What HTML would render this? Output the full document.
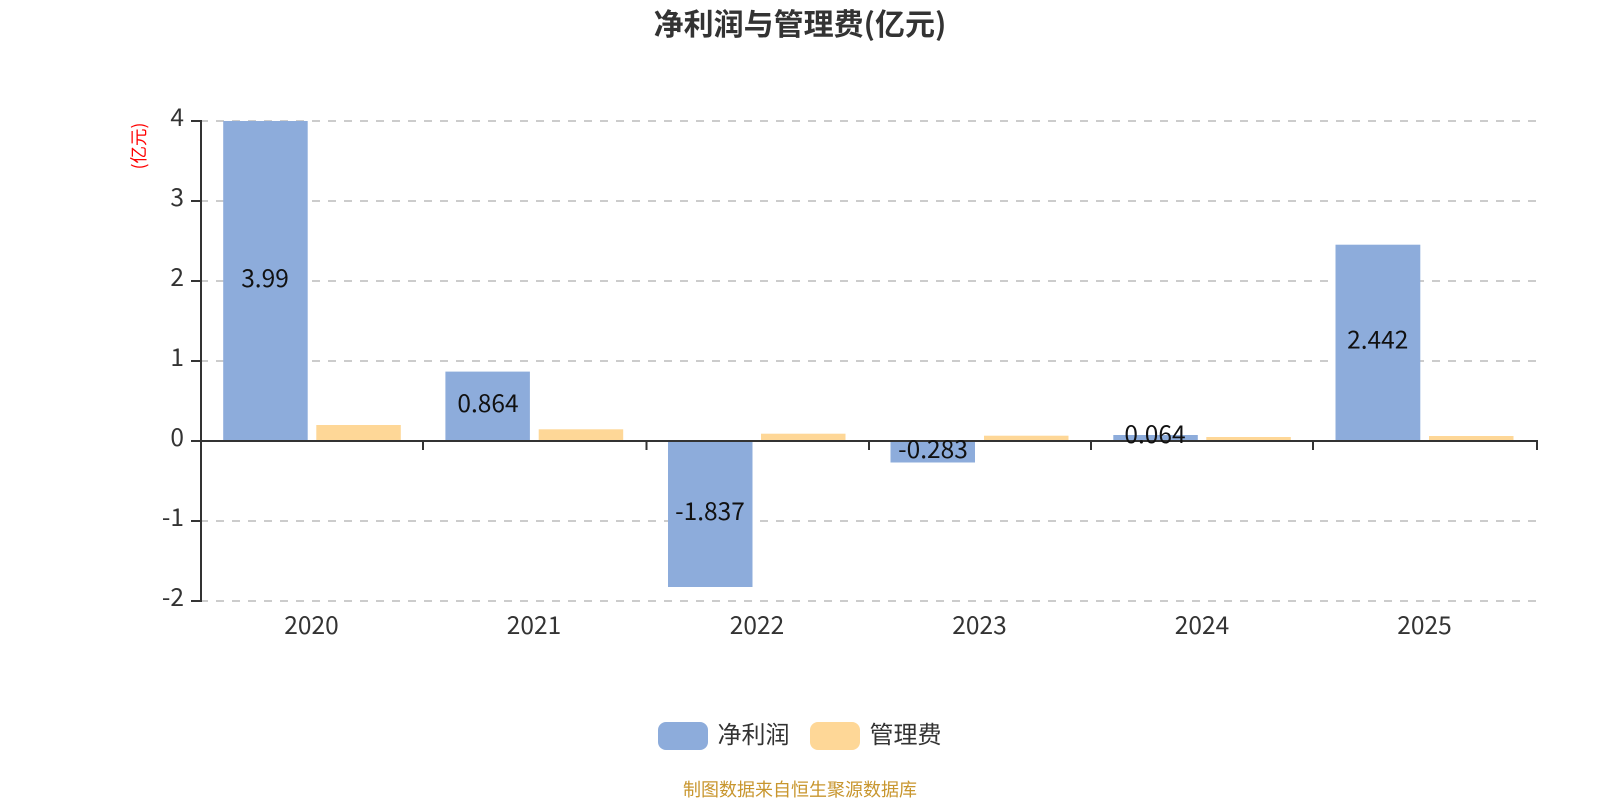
<!DOCTYPE html>
<html><head><meta charset="utf-8"><style>
html,body{margin:0;padding:0;background:#fff;width:1600px;height:800px;overflow:hidden}
svg{display:block}
text{font-family:"Noto Sans CJK SC","Liberation Sans",sans-serif}
</style></head><body>
<svg width="1600" height="800" viewBox="0 0 1600 800" xmlns="http://www.w3.org/2000/svg">
<rect width="1600" height="800" fill="#fff"/>
<text x="800" y="35" text-anchor="middle" font-size="30" font-weight="700" fill="#333">净利润与管理费(亿元)</text>
<g stroke="#ccc" stroke-width="2" stroke-dasharray="8 8">
<path d="M200 121H1537M200 201H1537M200 281H1537M200 361H1537M200 521H1537M200 601H1537"/>
</g>
<g fill="#8dacdb">
<rect x="223.200" y="121" width="84.500" height="319"/>
<rect x="445.400" y="371.600" width="84.500" height="68.400"/>
<rect x="668" y="441" width="84.500" height="146"/>
<rect x="890.500" y="441" width="84.500" height="21.500"/>
<rect x="1113.300" y="435" width="84.500" height="5"/>
<rect x="1335.500" y="244.700" width="84.800" height="195.300"/>
</g>
<g fill="#fed797">
<rect x="316.300" y="425" width="84.500" height="15"/>
<rect x="538.700" y="429.300" width="84.500" height="10.700"/>
<rect x="761" y="433.700" width="84.500" height="6.300"/>
<rect x="984" y="435.700" width="84.500" height="4.300"/>
<rect x="1206.300" y="437" width="84.500" height="3"/>
<rect x="1429" y="436" width="84.500" height="4"/>
</g>
<g stroke="#333" stroke-width="2" fill="none">
<path d="M201 120V602"/>
<path d="M200 441H1538"/>
<path d="M191 121H201M191 201H201M191 281H201M191 361H201M191 441H201M191 521H201M191 601H201"/>
<path d="M423 441V450M646.500 441V450M869 441V450M1091 441V450M1313 441V450M1537 441V450"/>
</g>
<g font-size="24.500" fill="#333" text-anchor="end">
<text x="184" y="126">4</text>
<text x="184" y="206">3</text>
<text x="184" y="286">2</text>
<text x="184" y="366">1</text>
<text x="184" y="446">0</text>
<text x="184" y="526">-1</text>
<text x="184" y="606">-2</text>
</g>
<g font-size="24.500" fill="#333" text-anchor="middle">
<text x="311.500" y="634">2020</text>
<text x="534" y="634">2021</text>
<text x="757" y="634">2022</text>
<text x="979.500" y="634">2023</text>
<text x="1202" y="634">2024</text>
<text x="1424.500" y="634">2025</text>
</g>
<g font-size="24.500" fill="#111" text-anchor="middle">
<text x="265" y="287">3.99</text>
<text x="488" y="412">0.864</text>
<text x="710" y="520">-1.837</text>
<text x="933" y="458">-0.283</text>
<text x="1155" y="443">0.064</text>
<text x="1377.700" y="348.500">2.442</text>
</g>
<text transform="translate(145 146) rotate(-90)" text-anchor="middle" font-size="17.500" fill="#f00">(亿元)</text>
<rect x="658" y="722" width="50" height="28" rx="8" fill="#8dacdb"/>
<rect x="810" y="722" width="50" height="28" rx="8" fill="#fed797"/>
<text x="717.500" y="743" font-size="24" fill="#333">净利润</text>
<text x="869.500" y="743" font-size="24" fill="#333">管理费</text>
<text x="800" y="796" text-anchor="middle" font-size="18" fill="#c8962e">制图数据来自恒生聚源数据库</text>
</svg>
</body></html>
